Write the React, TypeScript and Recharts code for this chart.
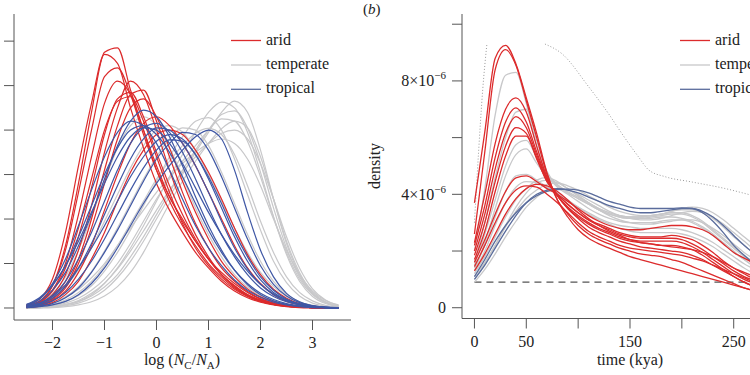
import React from 'react';
import { LineChart, Line, XAxis, YAxis, ReferenceLine } from 'recharts';

// ---- panel (a): density of log(Nc/Na), y in units of 0.01 ----
const LOG_X = [-2.5, -2.25, -2, -1.75, -1.5, -1.25, -1, -0.75, -0.5, -0.25, 0, 0.25, 0.5, 0.75, 1, 1.25, 1.5, 1.75, 2, 2.25, 2.5, 2.75, 3, 3.25, 3.5];
const LOG_TICKS = [-2, -1, 0, 1, 2, 3];
const DENS_TICKS = [0, 10, 20, 30, 40, 50, 60];

const ARID_LOG = [
    [0.5, 1.5, 5, 14, 28, 44, 57.5, 58.5, 49, 40, 31, 24, 18.5, 14, 10, 7, 4.5, 2.7, 1.5, 0.8, 0.4, 0.2, 0.1, 0, 0],
    [0.7, 2, 6.5, 17, 32, 46, 57, 55, 45, 36, 28, 22, 17, 12.5, 9, 6, 3.8, 2.3, 1.3, 0.7, 0.3, 0.1, 0, 0, 0],
    [0.5, 1.5, 5, 13, 26, 40, 52, 54, 48, 39, 31, 25, 19.5, 15, 11, 7.5, 5, 3, 1.8, 1, 0.5, 0.2, 0.1, 0, 0],
    [0.4, 1.2, 4, 10, 21, 34, 46, 51, 48, 40, 32, 25, 20, 15, 11, 8, 5.5, 3.5, 2, 1.1, 0.5, 0.2, 0.1, 0, 0],
    [0.3, 0.8, 2.5, 6, 13, 23, 35, 45, 51, 48, 40, 31, 23, 16.5, 11.5, 7.5, 4.7, 2.8, 1.6, 0.8, 0.4, 0.2, 0.1, 0, 0],
    [0.3, 1, 3, 7.5, 16, 27, 39, 47, 48.5, 43, 35, 27.5, 21, 15.5, 11, 7.5, 5, 3, 1.7, 0.9, 0.4, 0.2, 0.1, 0, 0],
    [0.2, 0.7, 2, 5, 11, 20, 31, 41, 48, 49, 42, 34, 26, 19, 13.5, 9, 6, 3.7, 2.1, 1.1, 0.5, 0.2, 0.1, 0, 0],
    [0.4, 1.3, 3.8, 9, 18, 29, 40, 46.5, 47.5, 42, 34, 26, 19, 13.5, 9.5, 6.5, 4.2, 2.6, 1.5, 0.8, 0.4, 0.2, 0.1, 0, 0],
    [0.2, 0.6, 1.8, 4.5, 10, 18, 28, 38, 45, 47, 43, 36, 28.5, 21.5, 15.5, 10.5, 7, 4.3, 2.5, 1.4, 0.7, 0.3, 0.1, 0, 0],
    [0.2, 0.6, 1.6, 3.8, 8, 14, 22, 30, 37, 41.5, 43, 41, 37, 32, 26, 20, 14, 9, 5.5, 3, 1.5, 0.7, 0.3, 0.1, 0],
    [0.1, 0.4, 1.2, 3, 6, 11, 17, 24, 30.5, 35.5, 39, 40, 39, 35.5, 30.5, 24.5, 18, 12, 7.5, 4.2, 2.2, 1, 0.4, 0.1, 0],
];

const TEMPERATE_LOG = [
    [0, 0.1, 0.3, 0.7, 1.5, 3, 5.5, 9, 13.5, 18.5, 24, 29.5, 34.5, 39.5, 44, 46.3, 45, 39.5, 30.5, 20.5, 12, 6, 2.6, 1, 0.3],
    [0, 0.1, 0.2, 0.5, 1.1, 2.2, 4, 6.8, 10.5, 15, 20, 25, 30, 35, 39.5, 44, 46.5, 44, 35.5, 24.5, 14.5, 7.5, 3.3, 1.3, 0.4],
    [0, 0.1, 0.3, 0.7, 1.4, 2.7, 4.7, 7.5, 11.5, 16, 21, 26, 31, 35.5, 40, 43.5, 44.3, 40.5, 32.5, 22.5, 13.5, 7, 3.2, 1.3, 0.4],
    [0.1, 0.2, 0.5, 1.1, 2.2, 4, 6.5, 10, 14.5, 19.5, 24.5, 29, 33, 36.5, 40, 42.5, 42, 37.5, 29.5, 20.5, 12.5, 6.5, 3, 1.2, 0.4],
    [0, 0.1, 0.3, 0.8, 1.7, 3.3, 5.6, 8.8, 12.8, 17.3, 22, 26.5, 30.5, 34, 37, 39.3, 40, 38, 32.5, 24.5, 16, 9, 4.3, 1.8, 0.6],
    [0.1, 0.3, 0.8, 1.8, 3.5, 6, 9.5, 14, 19, 24, 29, 33, 36.5, 39.3, 40.4, 39, 34.5, 27.5, 19.5, 12.5, 7, 3.5, 1.6, 0.6, 0.2],
    [0.1, 0.4, 1.1, 2.5, 4.8, 8.2, 12.8, 18, 23.5, 29, 34, 38, 40.5, 40, 36.5, 30.5, 23.5, 16.5, 10.5, 6, 3.1, 1.4, 0.6, 0.2, 0.1],
    [0.4, 1.2, 3.2, 7, 13, 20.5, 28.5, 36, 41, 43, 41, 36, 29.5, 22.5, 16.5, 11.5, 7.5, 4.7, 2.8, 1.6, 0.8, 0.4, 0.2, 0.1, 0],
    [0.3, 0.9, 2.3, 4.8, 8.6, 13.5, 19.5, 25.5, 31.5, 36.5, 40, 41, 39.5, 35.5, 30, 24, 18, 12.5, 8, 4.8, 2.6, 1.3, 0.6, 0.2, 0.1],
    [0.2, 0.5, 1.2, 2.4, 4.2, 6.8, 10, 14, 18, 22, 26, 29.5, 32.5, 35, 37, 38, 37, 33.5, 27.5, 20, 13, 7.5, 3.8, 1.7, 0.7],
    [0, 0, 0.1, 0.3, 0.7, 1.4, 2.7, 4.8, 8, 12.5, 18, 23.5, 28.5, 33, 37, 40.3, 42, 40.5, 34, 24.5, 15, 8, 3.6, 1.4, 0.5],
    [0.1, 0.2, 0.6, 1.4, 2.8, 5, 8.3, 12.5, 17.5, 23, 28.5, 34, 38.5, 42, 42.8, 40, 33.5, 25.5, 17.5, 10.5, 5.7, 2.7, 1.1, 0.4, 0.1],
];

const TROPICAL_LOG = [
    [0.5, 1.5, 4, 8, 14, 21, 29, 36.5, 42, 44.5, 43, 38.5, 32, 25, 18.5, 13, 8.5, 5.2, 3, 1.6, 0.8, 0.4, 0.2, 0.1, 0],
    [0.7, 2, 5, 9.5, 16, 23, 30, 36, 40, 41, 39, 35, 29.5, 23.5, 17.5, 12.5, 8.5, 5.5, 3.3, 1.9, 1, 0.5, 0.2, 0.1, 0],
    [0.3, 1, 2.8, 6, 11, 17, 24, 31, 37, 40.5, 41.5, 39.5, 35, 29, 22.5, 16.5, 11.5, 7.5, 4.5, 2.6, 1.4, 0.7, 0.3, 0.1, 0],
    [0.3, 0.8, 2.2, 4.8, 9, 14.5, 21, 27.5, 33.5, 38, 40.5, 40, 37, 32, 26, 19.5, 13.5, 8.8, 5.3, 3, 1.6, 0.8, 0.3, 0.1, 0],
    [0.4, 1.1, 2.6, 5.2, 9, 13.5, 18.5, 24, 29.5, 34, 37.5, 39, 38, 34.5, 29, 22.5, 16, 10.5, 6.3, 3.5, 1.8, 0.8, 0.3, 0.1, 0],
    [0.1, 0.4, 1, 2.3, 4.5, 8, 12.5, 17.5, 23, 28.5, 33.5, 37, 39.5, 39, 35.5, 29.5, 22.5, 15.5, 9.5, 5.3, 2.7, 1.2, 0.5, 0.2, 0],
    [0.1, 0.3, 0.7, 1.5, 3, 5.5, 9, 13.5, 18.5, 23.5, 28, 32, 35.5, 38.5, 40, 38, 31, 21.5, 13, 7, 3.3, 1.4, 0.5, 0.2, 0],
    [0.6, 2, 5.5, 11, 18.5, 26.5, 34, 39.5, 42, 41, 37, 31, 24.5, 18.5, 13.5, 9.5, 6.3, 4, 2.4, 1.3, 0.7, 0.3, 0.1, 0, 0],
    [0.2, 0.6, 1.6, 3.5, 6.5, 10.5, 15.5, 21, 26.5, 31.5, 35.5, 37.8, 37.5, 34.5, 29.5, 23.5, 17, 11.5, 7, 4, 2, 0.9, 0.4, 0.1, 0],
    [0.8, 2.3, 5.2, 9.5, 15, 21.5, 28, 34, 38.5, 40.5, 40, 37, 32.5, 27, 21.5, 16.5, 12, 8.3, 5.3, 3.2, 1.8, 0.9, 0.4, 0.2, 0.1],
];

// ---- panel (b): density over time (kya), y in units of 1e-7 ----
const TIME_X = [0, 10, 20, 30, 40, 50, 60, 70, 80, 90, 100, 110, 120, 130, 140, 150, 160, 170, 180, 190, 200, 210, 220, 230, 240, 250, 260, 270, 280, 290, 300];
const TIME_TICKS = [0, 50, 100, 150, 200, 250, 300];
const TIME_LABELED = [0, 50, 150, 250];
const RATE_TICKS = [0, 20, 40, 60, 80, 100];
const RATE_LABELED = [0, 40, 80];
const BASELINE_RATE = 9;

const ARID_TIME = [
    [37, 62, 88, 92.5, 86, 74, 61.5, 47.5, 38, 32, 27.5, 24.5, 22.5, 21, 19.5, 18, 17, 16, 15, 14, 13, 12, 11, 10, 9, 8, 7, 6, 5.5, 5, 4.5],
    [26, 55, 84, 91, 85.5, 73, 60, 47, 38, 33, 29, 26, 24, 22.5, 21, 20, 19, 18.5, 18, 17, 16, 14.5, 13, 11.5, 10, 8.5, 7, 6, 5, 4.5, 4],
    [23, 40, 58, 70, 74, 69, 57, 46, 39.5, 35, 31.5, 28.5, 26.5, 25, 23.5, 22.5, 21.5, 21, 20.5, 20, 19.5, 18.5, 17, 15, 13, 11, 9, 7.5, 6, 5, 4.5],
    [22, 36, 53, 65.5, 70.5, 65.5, 55, 45.5, 39.5, 35, 32, 29.5, 27.5, 26, 24.5, 23.5, 23, 22.5, 22, 22, 21.5, 20.5, 18.5, 16, 13.5, 11, 9, 7.5, 6.5, 5.5, 5],
    [20, 33, 49, 61.5, 67.4, 63.5, 54, 45, 39.5, 35.5, 32.5, 30, 28, 26.5, 25, 24, 23.5, 23.5, 23.5, 23.5, 23, 21.5, 19.5, 17, 14.5, 12, 10, 8.5, 7, 6, 5.5],
    [18.5, 30, 44.5, 57, 63.5, 61.5, 53, 44.5, 40, 36.5, 33.5, 31, 29, 27.5, 26, 25, 24.5, 24.5, 24.5, 24.5, 24, 22.5, 20.5, 18, 15.5, 13, 11, 9.5, 8, 7, 6],
    [17, 27, 41, 53.5, 60.5, 60.5, 52.5, 44.5, 40, 36.5, 33.5, 31, 29.5, 28, 26.5, 25.5, 25, 25, 25, 25.5, 25, 24, 22, 19.5, 16.5, 14, 12, 10, 8.5, 7.5, 6.5],
    [16, 24, 33, 41, 45.8, 46.5, 44.5, 42, 40, 37.5, 35, 32.5, 30.5, 29, 28, 27.5, 27.5, 28, 28.5, 29, 29, 28.5, 27.5, 25.5, 22.5, 19.5, 17.5, 15.5, 13, 11, 9],
    [13, 19, 26, 33, 38.5, 42, 43.5, 43, 41, 38, 34.5, 31.5, 29, 27, 25.5, 24, 23, 22.5, 22, 21.5, 21, 20.5, 19.5, 18, 16, 14, 12.5, 11, 9.5, 8.5, 7.5],
    [14.5, 22, 30, 37, 41.5, 43, 42.5, 40, 37, 33.5, 30, 27, 25, 23.5, 22, 21, 20.5, 20, 19.5, 19, 18.5, 17.5, 16.5, 15, 13.5, 12, 10.5, 9, 8, 7, 6],
];

const TEMPERATE_TIME = [
    [20, 42, 68, 82, 83, 72, 57, 47, 42.5, 40, 37.5, 35, 33, 31.5, 30.5, 30, 30, 30, 30.5, 31, 31, 30, 28, 25.5, 22.5, 19.5, 17, 14.5, 12.5, 11, 9.5],
    [16, 30, 46, 60, 69, 70, 59, 48, 43, 40.5, 38.5, 36.5, 34.5, 33, 32, 31.5, 31.5, 32, 32.5, 33, 33, 32, 30, 27, 24, 21, 18, 15.5, 13.5, 11.5, 10],
    [15, 26, 38, 50, 57.5, 59, 53, 47, 43.5, 41, 39, 37, 35, 33.5, 32.5, 32, 32, 32.5, 33, 33.5, 33.5, 32.5, 30.5, 27.5, 24.5, 21.5, 18.5, 16, 14, 12, 10.5],
    [13, 23, 35, 46.5, 54, 56, 51, 46, 43, 40.5, 38.5, 36.5, 34.5, 33, 32, 31.5, 31.5, 31.5, 32, 32, 31.5, 30.5, 28.5, 26, 23, 20, 17, 14.5, 12.5, 11, 9.5],
    [14, 22, 32, 41, 46.5, 47, 45, 42.5, 40, 37.5, 35.5, 33.5, 31.5, 30, 29, 28.5, 28, 28, 28, 28, 27.5, 26.5, 25, 23, 20.5, 18, 15.5, 13.5, 11.5, 10, 9],
    [12, 18, 25, 32, 38, 42, 45, 46, 44.5, 42, 39.5, 37, 35, 33.5, 32.5, 32, 32, 32.5, 33, 34, 34.5, 34.5, 33.5, 31.5, 28.5, 25, 22, 19, 16.5, 14, 12],
    [11, 16, 22, 28.5, 34, 38.5, 41.5, 43.5, 44, 43, 41.5, 39.5, 37.5, 35.5, 34, 33, 32.5, 32.5, 33, 34, 35, 35.5, 35, 33.5, 31, 28, 25, 22, 19, 16.5, 14],
    [10, 15.5, 22, 29, 35.5, 40.5, 44, 45, 44, 42, 39.5, 37, 34.5, 32.5, 31, 30, 29.5, 29.5, 30, 30.5, 31, 31, 30, 28, 25.5, 22.5, 19.5, 17, 14.5, 12.5, 11],
    [9, 13.5, 19, 25, 30.5, 35.5, 39, 41.5, 42, 41.5, 40, 38, 36, 34, 32.5, 31.5, 31, 31, 31.5, 32.5, 33.5, 34, 33.5, 32, 29.5, 26.5, 23.5, 20.5, 18, 15.5, 13],
    [13, 20, 29, 37, 42.5, 44.5, 44, 42.5, 40.5, 38, 35.5, 33, 31, 29.5, 28, 27, 26.5, 26.5, 26.5, 26.5, 26, 25, 23.5, 21.5, 19, 16.5, 14, 12, 10.5, 9, 8],
];

const TROPICAL_TIME = [
    [11, 17, 23.5, 29, 33.5, 37, 39.5, 41, 41.7, 41.8, 41.5, 40.5, 39, 37.5, 36.5, 35.5, 35, 35, 35, 35, 35.2, 35, 33.5, 30.5, 26.5, 22, 18.5, 15.5, 13, 11, 9.5],
    [10, 15, 21, 27, 32.5, 37, 40, 41.5, 42, 41.5, 40.5, 39, 37.5, 36, 35, 34, 33.5, 33.5, 34, 34.5, 35, 35, 34, 32, 29, 25.5, 22, 19, 16, 13.5, 11.5],
];

// dotted upper envelope, drawn in two pieces
const ENV_RISE_T = [0, 4, 8, 12];
const ENV_RISE_V = [30, 55, 77, 93];
const ENV_FALL_T = [68, 84, 110, 129, 142, 158, 168, 184, 209, 241, 266, 290, 300];
const ENV_FALL_V = [93, 89.7, 78, 68.6, 61.5, 53.3, 48.6, 46.2, 44.4, 42.1, 39.8, 37.5, 36.5];

const SERIF = '"Liberation Serif", "DejaVu Serif", serif';
const RED = '#DC2B2C';
const GREY = '#C8C8CA';
const BLUE = '#3F57A5';
const BLUE_B = '#5A6C9C';
const AXIS = '#555';

const buildRows = (xs: number[], key: string, groups: [string, number[][]][]) =>
    xs.map((x, i) => {
        const row: Record<string, number> = { [key]: x };
        groups.forEach(([p, arr]) => arr.forEach((s, k) => { row[p + k] = s[i]; }));
        return row;
    });

const logRows = buildRows(LOG_X, 'x', [['a', ARID_LOG], ['g', TEMPERATE_LOG], ['b', TROPICAL_LOG]]);
const timeRows = buildRows(TIME_X, 't', [['a', ARID_TIME], ['g', TEMPERATE_TIME], ['b', TROPICAL_TIME]]);
const riseRows = ENV_RISE_T.map((t, i) => ({ t, v: ENV_RISE_V[i] }));
const fallRows = ENV_FALL_T.map((t, i) => ({ t, v: ENV_FALL_V[i] }));

const fmtSigned = (v: number) => (v < 0 ? '\u2212' + Math.abs(v) : String(v));

const RateTick = (props: any) => {
    const { x, y, payload } = props;
    const v = payload.value;
    if (!RATE_LABELED.includes(v)) return <g />;
    if (v === 0) {
        return <text x={x} y={y + 5.5} textAnchor="end" fontSize={16} fontFamily={SERIF} fill="#222">0</text>;
    }
    return (
        <text x={x} y={y + 5.5} textAnchor="end" fontSize={16} fontFamily={SERIF} fill="#222">
            {v / 10}{'\u00D7'}10<tspan dy={-7} fontSize={11}>{'\u22126'}</tspan>
        </text>
    );
};

const series = (arr: number[][], prefix: string, color: string, w: number) =>
    arr.map((_, k) => (
        <Line key={prefix + k} dataKey={prefix + k} type="monotone" stroke={color} strokeWidth={w}
            dot={false} activeDot={false} isAnimationActive={false} />
    ));

const LegendBlock = ({ x }: { x: number }) => {
    const items: [string, string][] = [['arid', RED], ['temperate', GREY], ['tropical', BLUE_B]];
    const ys = [40.5, 65, 89.3];
    return (
        <g>
            {items.map(([name, c], i) => (
                <g key={name}>
                    <line x1={x} x2={x + 30} y1={ys[i]} y2={ys[i]} stroke={c} strokeWidth={1.3} />
                    <text x={x + 35} y={ys[i] + 4} fontSize={16} fontFamily={SERIF} fill="#222">{name}</text>
                </g>
            ))}
        </g>
    );
};

export default function App() {
    return (
        <div style={{ position: 'absolute', left: 0, top: 0, width: 750, height: 375, overflow: 'hidden', background: '#fff' }}>
            <div style={{ position: 'absolute', left: 0, top: 0 }}>
                <LineChart width={360} height={375} data={logRows} margin={{ top: 14, right: 9, bottom: 0, left: 0 }}>
                    <XAxis dataKey="x" type="number" domain={[-2.74, 3.74]} ticks={LOG_TICKS} allowDataOverflow interval={0}
                        height={55} tickSize={10} tickMargin={7} stroke={AXIS}
                        tick={{ fill: '#222', fontSize: 16, fontFamily: SERIF }} tickFormatter={fmtSigned} />
                    <YAxis type="number" domain={[-2.7, 66.1]} ticks={DENS_TICKS} allowDataOverflow interval={0}
                        width={14} tickSize={10} stroke={AXIS} tickFormatter={() => ''} />
                    {series(TEMPERATE_LOG, 'g', GREY, 1.2)}
                    {series(ARID_LOG, 'a', RED, 1.2)}
                    {series(TROPICAL_LOG, 'b', BLUE, 1.2)}
                </LineChart>
            </div>
            <div style={{ position: 'absolute', left: 375, top: 0 }}>
                <LineChart width={423} height={375} data={timeRows} margin={{ top: 14, right: 0, bottom: 0, left: 0 }}>
                    <XAxis dataKey="t" type="number" domain={[-12, 312]} ticks={TIME_TICKS} allowDataOverflow interval={0}
                        height={56.5} tickSize={10} tickMargin={7} stroke={AXIS}
                        tick={{ fill: '#222', fontSize: 16, fontFamily: SERIF }}
                        tickFormatter={(v: number) => (TIME_LABELED.includes(v) ? String(v) : '')} />
                    <YAxis type="number" domain={[-3.8, 103.6]} ticks={RATE_TICKS} allowDataOverflow interval={0}
                        width={87} tickSize={10} tickMargin={6} stroke={AXIS} tick={<RateTick />} />
                    <ReferenceLine segment={[{ x: 0, y: BASELINE_RATE }, { x: 300, y: BASELINE_RATE }]}
                        stroke="#555" strokeDasharray="7 5" strokeWidth={1.2} />
                    <Line data={riseRows} dataKey="v" type="monotone" stroke="#9a9a9a" strokeWidth={1}
                        strokeDasharray="1 2" dot={false} activeDot={false} isAnimationActive={false} />
                    <Line data={fallRows} dataKey="v" type="monotone" stroke="#9a9a9a" strokeWidth={1}
                        strokeDasharray="1 2" dot={false} activeDot={false} isAnimationActive={false} />
                    {series(TEMPERATE_TIME, 'g', GREY, 1.3)}
                    {series(TROPICAL_TIME, 'b', BLUE_B, 1.3)}
                    {series(ARID_TIME, 'a', RED, 1.3)}
                </LineChart>
            </div>
            <svg width={750} height={375} style={{ position: 'absolute', left: 0, top: 0, pointerEvents: 'none' }}>
                <LegendBlock x={231} />
                <LegendBlock x={680} />
                <text x={363} y={14} fontSize={15} fontFamily={SERIF} fill="#222">
                    (<tspan fontStyle="italic">b</tspan>)
                </text>
                <text x={380} y={166} transform="rotate(-90 380 166)" textAnchor="middle" fontSize={16}
                    fontFamily={SERIF} fill="#222">density</text>
                <text x={630} y={365} textAnchor="middle" fontSize={16} fontFamily={SERIF} fill="#222">time (kya)</text>
                <text x={182} y={365} textAnchor="middle" fontSize={16} fontFamily={SERIF} fill="#222">
                    log (<tspan fontStyle="italic">N</tspan><tspan fontSize={11} dy={4}>C</tspan>
                    <tspan dy={-4}>/</tspan><tspan fontStyle="italic">N</tspan><tspan fontSize={11} dy={4}>A</tspan>
                    <tspan dy={-4}>)</tspan>
                </text>
            </svg>
        </div>
    );
}
